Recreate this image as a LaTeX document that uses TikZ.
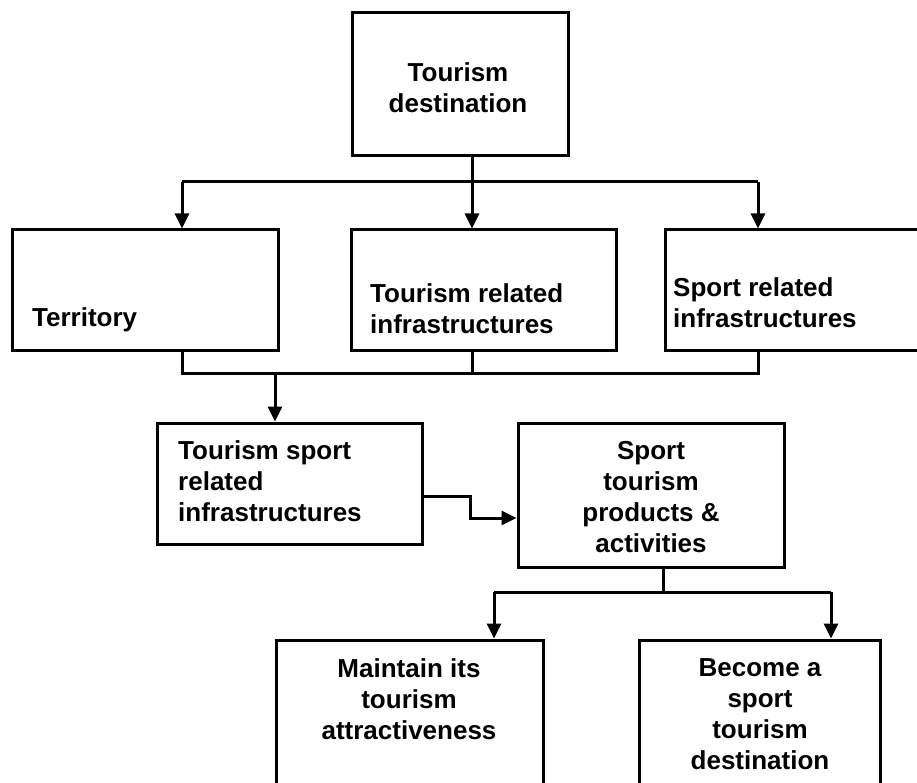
\documentclass[tikz,border=0pt]{standalone}
\usepackage{fontspec}
\setmainfont{Liberation Sans}
\usetikzlibrary{arrows.meta}
\tikzset{
  box/.style={draw=black, line width=3pt, rectangle, inner sep=0pt, fill=none},
  lbl/.style={inner sep=0pt, font=\fontsize{26}{31}\selectfont\bfseries},
  conn/.style={draw=black, line width=3pt},
  arr/.style={conn, -{Triangle[length=15pt,width=14pt]}}
}
\begin{document}
\begin{tikzpicture}[x=1pt,y=-1pt]
\useasboundingbox (0,0) rectangle (917,783);
% boxes
\node[box, minimum width=216pt, minimum height=143pt] (top) at (460,84.5) {};
\node[box, minimum width=266pt, minimum height=120pt] (terr) at (145,290) {};
\node[box, minimum width=265pt, minimum height=120pt] (trel) at (483.5,290) {};
\node[box, minimum width=300pt, minimum height=120pt] (srel) at (815,290) {};
\node[box, minimum width=265pt, minimum height=121pt] (tsri) at (289.5,483.5) {};
\node[box, minimum width=266pt, minimum height=144pt] (stpa) at (651,495) {};
\node[box, minimum width=267pt, minimum height=190pt] (main) at (409.5,735) {};
\node[box, minimum width=241pt, minimum height=190pt] (bec) at (759.5,735) {};
% labels
\node[lbl, align=center] (ttop) at (458,88) {Tourism\\destination};
\node[lbl, anchor=west] (tterr) at (32,320) {Territory};
\node[lbl, anchor=west, align=left] (ttrel) at (370,309) {Tourism related\\infrastructures};
\node[lbl, anchor=west, align=left] (tsrel) at (673,303) {Sport related\\infrastructures};
\node[lbl, anchor=west, align=left] (ttsri) at (178,481) {Tourism sport\\related\\infrastructures};
\node[lbl, align=center] (tstpa) at (651,497) {Sport\\tourism\\products \&\\activities};
\node[lbl, align=center] (tmain) at (409,699) {Maintain its\\tourism\\attractiveness};
\node[lbl, align=center] (tbec) at (760,714) {Become a\\sport\\tourism\\destination};
% junction coordinates
\coordinate (j1) at (472,182);
\coordinate (dL) at (182,182);
\coordinate (dR) at (758,182);
\coordinate (mL) at (182,373);
\coordinate (mM) at (472,373);
\coordinate (mR) at (758,373);
\coordinate (m2) at (275,373);
\coordinate (k1) at (470,496);
\coordinate (k2) at (470,518);
\coordinate (s1) at (663,592);
\coordinate (s2) at (494,592);
\coordinate (s3) at (831,592);
% connectors
\draw[conn] (top.south -| j1) -- (j1);
\draw[conn] (dL) -- (dR);
\draw[arr] (dL) -- (dL |- terr.north);
\draw[arr] (j1) -- (j1 |- trel.north);
\draw[arr] (dR) -- (dR |- srel.north);
\draw[conn] (terr.south -| mL) -- (mL) -- (mR) -- (srel.south -| mR);
\draw[conn] (trel.south -| mM) -- (mM);
\draw[arr] (m2) -- (m2 |- tsri.north);
\draw[arr] (tsri.east |- k1) -- (k1) -- (k2) -- (k2 -| stpa.west);
\draw[conn] (stpa.south -| s1) -- (s1);
\draw[conn] (s2) -- (s3);
\draw[arr] (s2) -- (s2 |- main.north);
\draw[arr] (s3) -- (s3 |- bec.north);
\end{tikzpicture}
\end{document}
